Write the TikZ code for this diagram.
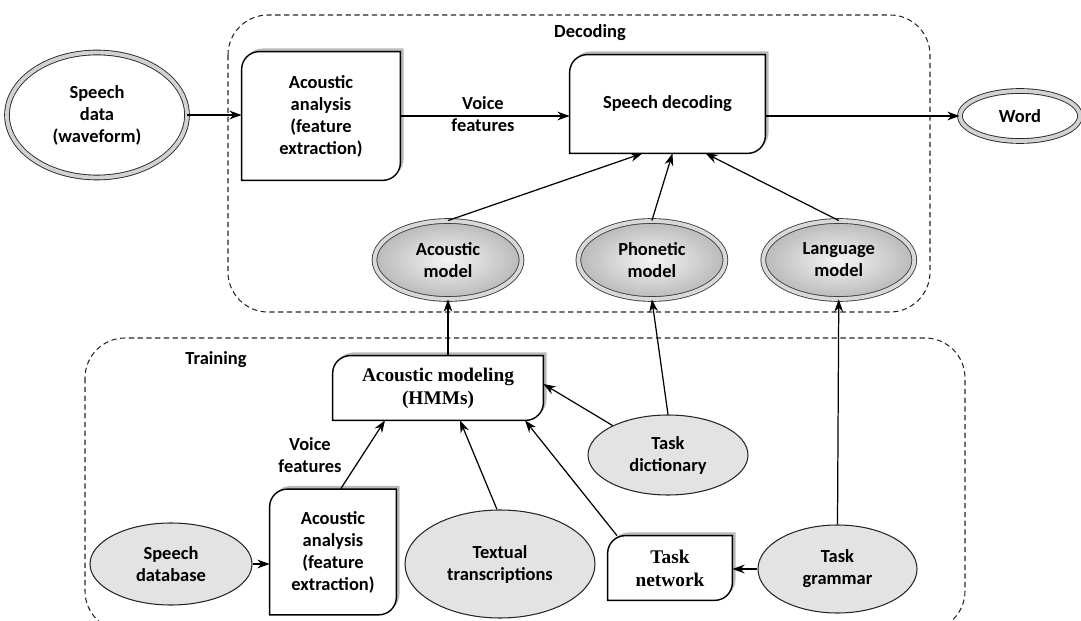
\documentclass[tikz,border=0pt]{standalone}
\usepackage{fontspec}
\setmainfont{Carlito}
\newfontfamily\timesbf{Liberation Serif}
\usetikzlibrary{positioning,shapes.geometric,arrows.meta,backgrounds}

\begin{document}
\begin{tikzpicture}[
                    >={Stealth[length=7pt,width=5pt]},
                    every node/.style={font=\bfseries\fontsize{10.5}{12.5}\selectfont, align=center},
                    procbox/.style={inner sep=0pt},
                    whiteell/.style={ellipse, draw=black!85, line width=0.5pt, double=gray!35, double distance=2.2pt, fill=white, inner sep=1pt},
                    modelell/.style={ellipse, draw=black!75, line width=0.5pt, double=gray!30, double distance=2.2pt, inner color=gray!8, outer color=gray!55, inner sep=1pt},
                    trainell/.style={ellipse, draw=black!85, line width=0.6pt, fill=gray!22, inner sep=1pt},
                    region/.style={draw=black!85, line width=0.6pt, dash pattern=on 3pt off 2pt, rounded corners=0.8cm},
                    conn/.style={line width=0.7pt, ->},
                ]
                    \useasboundingbox (0,0) rectangle (21.62,-12.42);

                    %Decoding nodes
                    \node[whiteell, minimum width=3.6cm, minimum height=2.5cm](sd) at (1.94,-2.30) {Speech\\data\\(waveform)};
                    \node[procbox, minimum width=3.16cm, minimum height=2.56cm](aa1) at (6.42,-2.32) {Acoustic\\analysis\\(feature\\extraction)};
                    \node[procbox, minimum width=3.9cm, minimum height=1.96cm](dec) at (13.35,-2.08) {Speech decoding};
                    \node[whiteell, minimum width=2.4cm, minimum height=1.0cm](word) at (20.4,-2.32) {Word};
                    \node[modelell, minimum width=2.94cm, minimum height=1.56cm](am) at (8.96,-5.2) {Acoustic\\model};
                    \node[modelell, minimum width=2.94cm, minimum height=1.56cm](pm)[right=1.12cm of am] {Phonetic\\model};
                    \node[modelell, minimum width=3.02cm, minimum height=1.56cm](lm)[right=0.74cm of pm] {Language\\model};
                    \node(declabel) at (11.8,-0.66) {Decoding};
                    \node(vf1) at (9.66,-2.28) {Voice\\features};

                    %Training nodes
                    \node(trainlabel) at (4.32,-7.2) {Training};
                    \node[procbox, minimum width=4.2cm, minimum height=1.28cm, font=\timesbf\bfseries\fontsize{11}{13}\selectfont](hmm) at (8.76,-7.76) {Acoustic modeling\\(HMMs)};
                    \node[trainell, minimum width=3.2cm, minimum height=1.6cm](td) at (13.36,-9.1) {Task\\dictionary};
                    \node(vf2) at (6.2,-9.1) {Voice\\features};
                    \node[procbox, minimum width=2.52cm, minimum height=2.5cm](aa2) at (6.66,-11.04) {Acoustic\\analysis\\(feature\\extraction)};
                    \node[trainell, minimum width=3.24cm, minimum height=1.64cm](db) at (3.42,-11.28) {Speech\\database};
                    \node[trainell, minimum width=3.8cm, minimum height=2.16cm](tt) at (10.0,-11.28) {Textual\\transcriptions};
                    \node[procbox, minimum width=2.48cm, minimum height=1.28cm, font=\timesbf\bfseries\fontsize{11}{13}\selectfont](net) at (13.4,-11.36) {Task\\network};
                    \node[trainell, minimum width=3.18cm, minimum height=1.76cm](tg) at (16.75,-11.38) {Task\\grammar};

                    %Regions and boxes
                    \begin{scope}[on background layer]
                        \draw[region] (4.56,-0.3) rectangle (18.6,-6.24);
                        \draw[region] (1.7,-6.76) rectangle (19.3,-12.62);
                        \foreach \n in {aa1,dec,hmm,aa2,net}{
                            \fill[gray!55] ([shift={(1.8pt,1.8pt)}]\n.south west) -- ([shift={(1.8pt,-8.2pt)}]\n.north west)
                                arc[start angle=180, end angle=90, radius=10pt] -- ([shift={(1.8pt,1.8pt)}]\n.north east)
                                -- ([shift={(1.8pt,11.8pt)}]\n.south east) arc[start angle=0, end angle=-90, radius=10pt] -- cycle;
                            \draw[line width=0.8pt, fill=white] (\n.south west) -- ([yshift=-10pt]\n.north west)
                                arc[start angle=180, end angle=90, radius=10pt] -- (\n.north east)
                                -- ([yshift=10pt]\n.south east) arc[start angle=0, end angle=-90, radius=10pt] -- cycle;
                        }
                    \end{scope}

                    %Lines
                    \draw[conn](sd.east) -- (sd.east -| aa1.west);
                    \draw[conn](aa1.east) -- (aa1.east -| dec.west);
                    \draw[conn](dec.east |- word.west) -- (word.west);
                    \draw[conn](am.north) -- ([xshift=-0.5cm]dec.south);
                    \draw[conn](pm.north) -- ([xshift=0.1cm]dec.south);
                    \draw[conn](lm.north) -- ([xshift=0.76cm]dec.south);
                    \draw[conn](hmm.north -| am.south) -- (am.south);
                    \draw[conn](td.north) -- (pm.south);
                    \draw[conn](tg.north) -- (lm.south);
                    \draw[conn](td.152) -- ([yshift=0.08cm]hmm.east);
                    \draw[conn]([xshift=0.15cm]aa2.north) -- ([xshift=-1.06cm]hmm.south);
                    \draw[conn]([xshift=-0.06cm]tt.north) -- ([xshift=0.44cm]hmm.south);
                    \draw[conn]([xshift=-1.06cm]net.north) -- ([xshift=1.74cm]hmm.south);
                    \draw[conn](db.east) -- (db.east -| aa2.west);
                    \draw[conn](tg.west) -- (tg.west -| net.east);
                \end{tikzpicture}
\end{document}
